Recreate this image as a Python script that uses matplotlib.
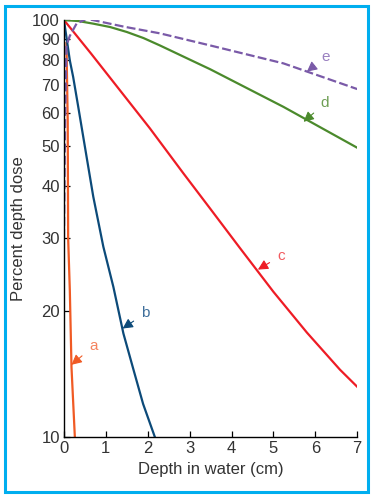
import matplotlib
matplotlib.use("Agg")
import matplotlib.pyplot as plt
from matplotlib.patches import Rectangle
from matplotlib.ticker import FixedLocator, NullLocator, FixedFormatter

plt.rcParams["font.family"] = ["Liberation Sans", "DejaVu Sans"]

# depth (cm) and percent depth dose
depth_a = [0.06, 0.09, 0.10, 0.14, 0.18, 0.26]
dose_a = [88, 57, 30, 22.5, 14.7, 10]

depth_b = [0.0, 0.14, 0.22, 0.34, 0.46, 0.54, 0.70, 0.94, 1.18, 1.42,
           1.66, 1.89, 2.17]
dose_b = [100, 80, 73, 62, 52.5, 47, 37.7, 28.6, 22.9, 17.7,
          14.5, 12.0, 10]

depth_c = [0.0, 0.65, 2.05, 2.85, 3.49, 4.20, 5.0, 5.8, 6.59, 7.0]
dose_c = [100, 83, 55, 42.9, 35.3, 28.4, 22.3, 17.8, 14.5, 13.2]

depth_d = [0.0, 0.35, 0.70, 1.10, 1.50, 1.90, 2.29, 3.09, 3.49, 5.24, 7.0]
dose_d = [100, 99.4, 98.0, 96.2, 93.6, 90.5, 86.9, 79.6, 76.2, 61.9, 49.4]

depth_e = [0.0, 0.03, 0.06, 0.14, 0.30, 0.54, 1.45, 2.29, 3.49,
           5.24, 7.0]
dose_e = [30, 60, 86.9, 91.6, 98.0, 100.7, 96.3, 92.9, 86.9,
          78.7, 68.3]

y_ticks = [10, 20, 30, 40, 50, 60, 70, 80, 90, 100]
x_ticks = [0, 1, 2, 3, 4, 5, 6, 7]

# label text position, arrow tip
labels = {
    "a": ((0.70, 16.5), (0.18, 14.9)),
    "b": ((1.94, 19.8), (1.40, 18.2)),
    "c": ((5.18, 27.2), (4.63, 25.2)),
    "d": ((6.23, 63.1), (5.72, 57.0)),
    "e": ((6.25, 81.7), (5.80, 75.2)),
}

colors = {
    "a": "#f05a24",
    "b": "#0c4a79",
    "c": "#ee1c25",
    "d": "#4b8a2c",
    "e": "#7a5aa8",
}
text_colors = {
    "a": "#f4845f",
    "b": "#3f6f9b",
    "c": "#f25a5f",
    "d": "#6f9f55",
    "e": "#9a80c0",
}

fig = plt.figure(figsize=(3.74, 5.0), dpi=100)
ax = fig.add_axes([0.171, 0.126, 0.784, 0.834])

ax.plot(depth_a, dose_a, color=colors["a"], lw=1.6)
ax.plot(depth_b, dose_b, color=colors["b"], lw=1.6)
ax.plot(depth_c, dose_c, color=colors["c"], lw=1.6)
ax.plot(depth_d, dose_d, color=colors["d"], lw=1.6)
ax.plot(depth_e, dose_e, color=colors["e"], lw=1.6, linestyle=(0, (4, 1.5)))

for name, (txt, tip) in labels.items():
    ax.annotate(
        name,
        xy=tip,
        xytext=txt,
        color=text_colors[name],
        fontsize=11,
        ha="center",
        va="center",
        arrowprops=dict(
            arrowstyle="-|>,head_length=0.55,head_width=0.28",
            color=colors[name],
            lw=0.8,
            shrinkA=4,
            shrinkB=0,
        ),
    )

ax.set_yscale("log")
ax.set_xlim(0, 7)
ax.set_ylim(10, 100)
ax.yaxis.set_major_locator(FixedLocator(y_ticks))
ax.yaxis.set_major_formatter(FixedFormatter([str(v) for v in y_ticks]))
ax.yaxis.set_minor_locator(NullLocator())
ax.set_xticks(x_ticks)

for side in ["top", "right"]:
    ax.spines[side].set_visible(False)
for side in ["left", "bottom"]:
    ax.spines[side].set_linewidth(1.0)

ax.tick_params(direction="in", length=4, width=0.9, labelsize=12,
               labelcolor="#333333", pad=3)

ax.set_xlabel("Depth in water (cm)", fontsize=12, color="#333333", labelpad=4)
ax.set_ylabel("Percent depth dose", fontsize=12, color="#333333", labelpad=4)

# blue frame round the whole figure
frame = Rectangle((0.013, 0.016), 0.972, 0.972, transform=fig.transFigure,
                  fill=False, edgecolor="#00aeef", linewidth=2.2)
fig.patches.append(frame)

fig.savefig("out.png", dpi=100)
